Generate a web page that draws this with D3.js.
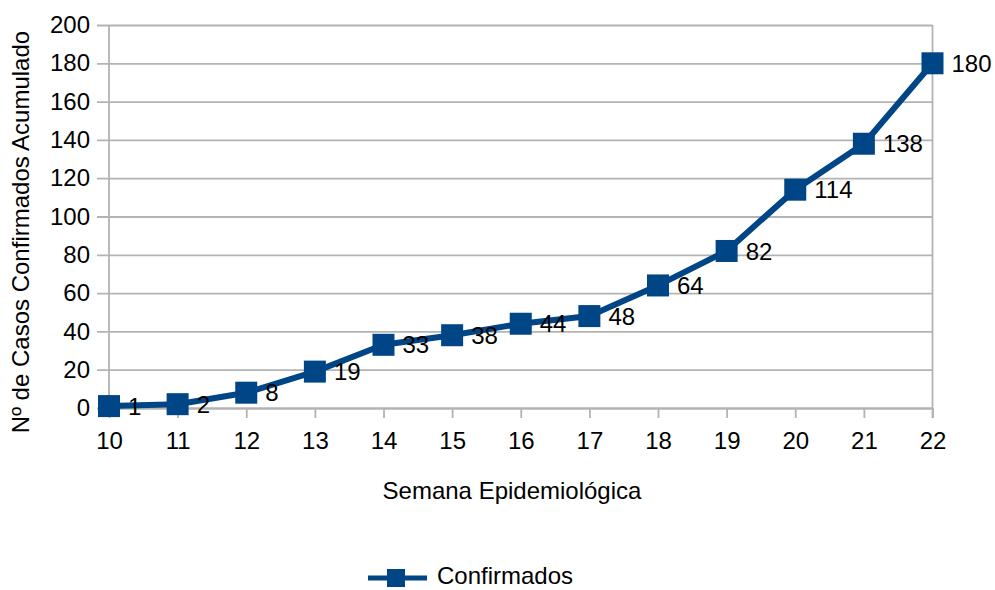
<!DOCTYPE html>
<html>
<head>
<meta charset="utf-8">
<script src="https://cdn.jsdelivr.net/npm/d3@7"></script>
<style>
  html, body { margin: 0; padding: 0; background: #fff; }
  svg { display: block; font-family: "Liberation Sans", Arial, sans-serif; }
</style>
</head>
<body>
<svg id="chart" width="995" height="590"></svg>
<script>
// Weekly cumulative confirmed cases
const weeks = [10, 11, 12, 13, 14, 15, 16, 17, 18, 19, 20, 21, 22];
const confirmed = [1, 2, 8, 19, 33, 38, 44, 48, 64, 82, 114, 138, 180];
const yTicks = [0, 20, 40, 60, 80, 100, 120, 140, 160, 180, 200];
const seriesName = "Confirmados";
const xTitle = "Semana Epidemiológica";
const yTitle = "Nº de Casos Confirmados Acumulado";

const svg = d3.select("#chart");
const plot = { left: 109, right: 932.5, top: 25, bottom: 408 };
const blue = "#004586";
const gridColor = "#b3b3b3";

const x = d3.scalePoint().domain(weeks).range([plot.left, plot.right]);
const y = d3.scaleLinear().domain([0, 200]).range([plot.bottom, plot.top]);

// Horizontal gridlines with outward tick marks
const yAxis = svg.append("g")
  .attr("transform", `translate(${plot.left},0)`)
  .call(d3.axisLeft(y).tickValues(yTicks).tickPadding(7)
    .tickSizeInner(-(plot.right - plot.left)).tickSizeOuter(0));
yAxis.select(".domain").remove();
yAxis.selectAll(".tick line")
  .attr("x1", -12)
  .attr("stroke", gridColor).attr("stroke-width", 1.8);
yAxis.selectAll(".tick text")
  .attr("x", -19)
  .attr("fill", "#000").attr("font-size", 24)
  .attr("font-family", "Liberation Sans, Arial, sans-serif");

// Left and right frame of the plot area
svg.append("line")
  .attr("x1", plot.left).attr("x2", plot.left)
  .attr("y1", plot.top).attr("y2", plot.bottom)
  .attr("stroke", gridColor).attr("stroke-width", 1.8);
svg.append("line")
  .attr("x1", plot.right).attr("x2", plot.right)
  .attr("y1", plot.top).attr("y2", plot.bottom + 10)
  .attr("stroke", gridColor).attr("stroke-width", 1.8);

// Category axis
const xAxis = svg.append("g")
  .attr("transform", `translate(0,${plot.bottom})`)
  .call(d3.axisBottom(x).tickSize(10).tickPadding(14).tickSizeOuter(0));
xAxis.select(".domain").attr("stroke", gridColor).attr("stroke-width", 1.8);
xAxis.selectAll(".tick line").attr("stroke", gridColor).attr("stroke-width", 1.8);
xAxis.selectAll(".tick text")
  .attr("fill", "#000").attr("font-size", 24)
  .attr("font-family", "Liberation Sans, Arial, sans-serif");

// Axis titles
svg.append("text")
  .attr("x", 512).attr("y", 499)
  .attr("text-anchor", "middle")
  .attr("font-size", 24)
  .text(xTitle);

svg.append("text")
  .attr("transform", "translate(29,232) rotate(-90)")
  .attr("text-anchor", "middle")
  .attr("font-size", 24)
  .text(yTitle);

// Series line
const pts = weeks.map((w, i) => ({ w, v: confirmed[i] }));
svg.append("path")
  .datum(pts)
  .attr("fill", "none")
  .attr("stroke", blue)
  .attr("stroke-width", 6)
  .attr("stroke-linejoin", "round")
  .attr("d", d3.line().x(d => x(d.w)).y(d => y(d.v)));

// Square markers
const m = 22;
svg.append("g").selectAll("rect")
  .data(pts).join("rect")
  .attr("x", d => x(d.w) - m / 2)
  .attr("y", d => y(d.v) - m / 2)
  .attr("width", m).attr("height", m)
  .attr("fill", blue);

// Value labels to the right of each point
svg.append("g").selectAll("text")
  .data(pts).join("text")
  .attr("x", d => x(d.w) + 19)
  .attr("y", d => y(d.v))
  .attr("dy", "0.36em")
  .attr("font-size", 24)
  .attr("fill", "#000")
  .text(d => d.v);

// Legend
const lg = svg.append("g").attr("transform", "translate(0,578)");
lg.append("line")
  .attr("x1", 368).attr("x2", 427).attr("y1", 0).attr("y2", 0)
  .attr("stroke", blue).attr("stroke-width", 5);
lg.append("rect")
  .attr("x", 387).attr("y", -9).attr("width", 18).attr("height", 18)
  .attr("fill", blue);
lg.append("text")
  .attr("x", 437).attr("y", 6)
  .attr("font-size", 24)
  .text(seriesName);
</script>
</body>
</html>
